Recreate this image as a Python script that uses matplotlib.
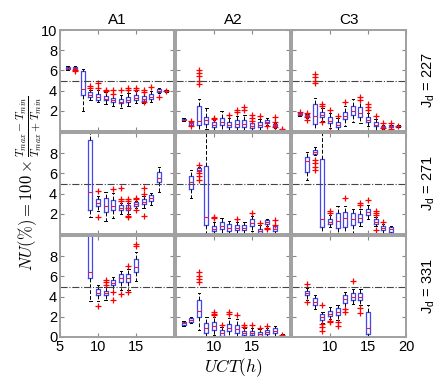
import matplotlib
matplotlib.use("Agg")
from matplotlib import pyplot as plt

plt.rcParams['font.family'] = ['Liberation Sans', 'DejaVu Sans']
plt.rcParams['mathtext.fontset'] = 'custom'
plt.rcParams['mathtext.rm'] = 'Liberation Sans'
plt.rcParams['mathtext.it'] = 'Liberation Sans:italic'

""" ------ box stats read off the picture: (hour, lo, q1, med, q3, hi) ------ """

SITES = ["A1", "A2", "C3"]
JD = [227, 271, 331]

a1_227 = [(6, 6.0, 6.1, 6.2, 6.3, 6.4), (7, 6.0, 6.1, 6.2, 6.3, 6.4),
          (8, 2.0, 3.6, 4.2, 5.9, 6.1), (9, 3.1, 3.4, 3.6, 3.9, 4.1),
          (10, 2.9, 3.1, 3.4, 3.7, 4.1), (11, 2.7, 3.05, 3.2, 3.45, 3.9),
          (12, 2.5, 2.9, 3.1, 3.3, 3.7), (13, 2.3, 2.75, 2.9, 3.2, 3.6),
          (14, 2.5, 2.9, 3.1, 3.4, 3.8), (15, 2.8, 3.1, 3.3, 3.6, 4.0),
          (16, 2.8, 3.0, 3.2, 3.5, 3.9), (17, 2.9, 3.2, 3.4, 3.7, 4.0),
          (18, 3.8, 3.9, 4.0, 4.2, 4.3), (19, 3.9, 3.95, 4.0, 4.05, 4.1)]
a1_227_out = {7: [5.9, 6.05], 9: [4.45, 4.3], 10: [4.8, 4.3], 11: [4.1, 4.0],
              12: [4.1, 3.7], 13: [4.1], 14: [4.3, 4.1], 15: [4.3, 4.1],
              16: [4.1, 3.9, 2.85], 17: [4.4], 18: [3.4], 19: [4.0]}

a2_227 = [(6, 1.0, 1.05, 1.1, 1.2, 1.25), (7, 0.5, 0.6, 0.75, 0.9, 1.0),
          (8, 0.0, 0.6, 1.0, 2.5, 3.2), (9, 0.2, 0.7, 1.1, 1.4, 2.3),
          (10, 0.1, 0.4, 0.6, 0.9, 1.1), (11, 0.1, 0.6, 0.9, 1.3, 2.0),
          (12, 0.05, 0.35, 0.6, 0.9, 1.3), (13, 0.1, 0.4, 0.7, 1.1, 1.5),
          (14, 0.05, 0.35, 0.7, 1.1, 1.6), (15, 0.0, 0.3, 0.5, 0.75, 1.0),
          (16, 0.05, 0.35, 0.6, 0.9, 1.2), (17, 0.6, 0.75, 0.9, 1.05, 1.3),
          (18, 0.3, 0.45, 0.55, 0.7, 0.8), (19, 0.1, 0.12, 0.15, 0.2, 0.22)]
a2_227_out = {7: [1.0, 0.5], 8: [6.0, 5.7, 5.4, 5.0, 4.7], 10: [1.3, 1.2],
              12: [1.6], 13: [2.1, 1.9], 14: [2.4, 2.1], 15: [1.6, 1.3, 1.0],
              16: [1.5], 17: [0.5], 18: [1.4, 0.9, 0.4], 19: [0.2]}

c3_227 = [(6, 1.5, 1.55, 1.65, 1.8, 1.85), (7, 1.3, 1.45, 1.55, 1.65, 1.7),
          (8, 0.0, 0.7, 1.5, 2.7, 3.25), (9, 1.0, 1.35, 1.6, 1.9, 2.3),
          (10, 0.3, 0.76, 1.0, 1.4, 1.8), (11, 0.05, 0.35, 0.6, 0.9, 1.3),
          (12, 0.5, 1.15, 1.5, 1.9, 2.5), (13, 0.9, 1.6, 2.0, 2.5, 3.2),
          (14, 0.8, 1.35, 1.8, 2.4, 3.1), (15, 0.5, 0.9, 1.1, 1.4, 1.8),
          (16, 0.1, 0.45, 0.6, 0.9, 1.2), (17, 0.2, 0.3, 0.4, 0.5, 0.6),
          (18, 0.2, 0.35, 0.45, 0.55, 0.6), (19, 0.35, 0.4, 0.45, 0.5, 0.55)]
c3_227_out = {6: [1.9], 7: [1.8, 1.4, 1.1], 8: [5.6, 5.3, 5.0, 4.8],
              9: [2.7, 2.5, 0.9], 10: [2.1, 0.0], 11: [1.5], 12: [2.9],
              14: [3.4, 3.07], 15: [2.7, 2.4, 2.1], 16: [1.5], 17: [0.8, 0.25],
              18: [0.8, 0.2], 19: [0.45]}

a1_271 = [(9, 1.7, 2.4, 4.2, 9.3, 10.5), (10, 2.3, 2.8, 3.1, 3.5, 3.8),
          (11, 1.3, 2.2, 2.8, 3.6, 4.2), (12, 1.6, 2.4, 2.8, 3.4, 4.1),
          (13, 2.0, 2.4, 2.6, 2.9, 3.1), (14, 2.0, 2.4, 2.6, 2.9, 3.1),
          (15, 2.6, 2.8, 3.0, 3.2, 3.3), (16, 2.6, 3.0, 3.2, 3.5, 3.8),
          (17, 2.9, 3.3, 3.6, 3.9, 4.1), (18, 4.2, 5.1, 5.5, 6.1, 6.6)]
a1_271_out = {10: [4.3, 1.7], 12: [4.5], 13: [4.6, 3.5, 3.3],
              14: [3.5, 3.3, 2.6, 1.8, 1.7], 15: [3.6, 3.5, 2.4],
              16: [4.6, 4.0, 1.8]}

a2_271 = [(7, 3.6, 4.5, 5.1, 5.7, 6.3), (8, 6.0, 6.2, 6.35, 6.5, 6.6),
          (9, 0.1, 0.9, 1.7, 6.7, 10.5), (10, 0.0, 0.3, 0.5, 0.8, 1.2),
          (11, 0.0, 0.5, 0.8, 1.2, 1.6), (12, 0.0, 0.3, 0.6, 1.0, 1.3),
          (13, 0.0, 0.4, 0.6, 0.9, 1.2), (14, 0.0, 0.4, 0.6, 0.9, 1.2),
          (15, 0.3, 0.8, 1.1, 1.45, 1.8), (16, 0.0, 0.1, 0.3, 0.5, 0.9),
          (17, 0.8, 0.95, 1.2, 1.4, 1.5), (18, 0.1, 0.3, 0.5, 0.8, 0.9)]
a2_271_out = {8: [6.8, 6.0, 5.7, 5.3], 10: [1.7, 1.55], 13: [1.5], 15: [2.1],
              16: [1.1], 17: [0.6, 0.5], 18: [1.4, 0.9]}

c3_271 = [(7, 5.3, 6.1, 7.2, 7.6, 8.1), (8, 7.8, 7.95, 8.1, 8.3, 8.6),
          (9, 0.0, 0.7, 1.5, 7.4, 10.5), (10, 0.7, 1.0, 1.2, 1.5, 1.9),
          (11, 0.1, 0.56, 1.3, 2.1, 2.8), (12, 0.1, 0.7, 1.6, 2.2, 2.8),
          (13, 0.1, 0.85, 1.5, 2.1, 2.5), (14, 0.8, 1.2, 1.6, 2.0, 2.5),
          (15, 1.5, 1.9, 2.2, 2.5, 2.9), (16, 0.8, 1.0, 1.2, 1.5, 1.7),
          (17, 0.1, 0.4, 0.6, 0.8, 1.0), (18, 0.1, 0.2, 0.45, 0.7, 0.8)]
c3_271_out = {8: [7.3, 7.0, 6.6, 6.3], 10: [2.3, 2.1], 12: [3.6],
              14: [2.9, 3.1], 15: [3.4], 16: [2.3, 2.1, 1.9, 0.4], 17: [1.2]}

a1_331 = [(9, 3.6, 5.8, 6.4, 11.0, 12.0), (10, 3.6, 4.2, 4.4, 4.8, 5.1),
          (11, 3.7, 4.2, 4.4, 4.6, 5.0), (12, 4.5, 5.1, 5.3, 5.6, 5.9),
          (13, 4.7, 5.4, 5.8, 6.2, 6.5), (14, 4.7, 5.4, 5.8, 6.2, 6.7),
          (15, 5.5, 6.4, 6.9, 7.7, 8.4)]
a1_331_out = {10: [3.1], 11: [5.6, 5.4, 5.1], 12: [4.5, 3.7], 13: [4.3],
              14: [7.0, 4.5], 15: [9.2, 9.0]}

a2_331 = [(6, 1.1, 1.2, 1.35, 1.5, 1.6), (7, 1.4, 1.5, 1.7, 1.9, 2.0),
          (8, 0.7, 2.0, 2.6, 3.7, 4.4), (9, 0.0, 0.4, 0.9, 1.4, 2.0),
          (10, 0.2, 0.7, 1.1, 1.5, 2.0), (11, 0.0, 0.1, 0.4, 0.7, 1.0),
          (12, 0.1, 0.6, 0.9, 1.3, 1.9), (13, 0.0, 0.4, 0.8, 1.2, 1.8),
          (14, 0.0, 0.2, 0.4, 0.6, 0.9), (15, 0.0, 0.2, 0.4, 0.6, 0.9),
          (16, 0.0, 0.1, 0.3, 0.5, 0.8), (17, 0.1, 0.3, 0.5, 0.7, 0.9),
          (18, 0.1, 0.4, 0.6, 0.9, 1.1), (19, 0.1, 0.12, 0.15, 0.2, 0.25)]
a2_331_out = {8: [6.4, 6.0, 5.7, 5.4], 10: [2.5, 2.3, 2.2], 11: [1.2],
              12: [2.5, 2.3], 13: [2.2], 14: [1.2, 1.0], 15: [1.2], 16: [0.9],
              17: [1.1], 19: [0.2]}

c3_331 = [(7, 3.7, 4.2, 4.4, 4.6, 4.9), (8, 2.8, 3.2, 3.5, 3.9, 4.2),
          (9, 1.4, 1.7, 2.0, 2.3, 2.5), (10, 1.8, 2.1, 2.3, 2.6, 3.0),
          (11, 1.7, 2.2, 2.5, 2.9, 3.2), (12, 2.8, 3.4, 3.8, 4.2, 4.5),
          (13, 3.3, 3.7, 4.0, 4.4, 4.8), (14, 3.2, 3.7, 4.0, 4.4, 4.8),
          (15, 0.0, 0.3, 0.9, 2.5, 3.2)]
c3_331_out = {7: [5.2, 3.5], 9: [3.2, 1.3, 1.0, 0.6], 10: [1.6, 1.5],
              11: [1.5, 1.1], 12: [2.5, 2.8], 13: [5.5], 14: [2.9, 2.4]}

PANELS = [[(a1_227, a1_227_out), (a2_227, a2_227_out), (c3_227, c3_227_out)],
          [(a1_271, a1_271_out), (a2_271, a2_271_out), (c3_271, c3_271_out)],
          [(a1_331, a1_331_out), (a2_331, a2_331_out), (c3_331, c3_331_out)]]

""" ------ layout in pixels ------ """
W, H = 448, 381
COL_X = [60, 176, 292]
ROW_Y = [30, 133, 236]
PW, PH = 114, 101


def to_stats(rows, outl):
    stats = []
    for x, lo, q1, med, q3, hi in rows:
        stats.append(dict(med=med, q1=q1, q3=q3, whislo=lo, whishi=hi,
                          fliers=outl.get(x, [])))
    return stats


fig = plt.figure(figsize=(W / 100, H / 100), dpi=100)
axes = [[None] * 3 for i in range(3)]

for r in range(3):
    for c in range(3):
        ax = fig.add_axes([COL_X[c] / W, 1 - (ROW_Y[r] + PH) / H, PW / W, PH / H])
        axes[r][c] = ax
        rows, outl = PANELS[r][c]
        ax.bxp(to_stats(rows, outl), positions=[t[0] for t in rows],
               widths=0.55, capwidths=0.3, manage_ticks=False,
               boxprops=dict(color='#4646f0', lw=0.9),
               medianprops=dict(color='#e8202a', lw=0.8),
               whiskerprops=dict(color='black', lw=0.7, linestyle=(0, (4, 2))),
               capprops=dict(color='black', lw=0.7),
               flierprops=dict(marker='+', markeredgecolor='red',
                               markersize=5, markeredgewidth=0.9, linestyle='none'))
        ax.axhline(5, color='#444444', lw=0.8, linestyle='-.')
        ax.set_xlim(5, 20)
        ax.set_ylim(0, 10)
        ax.set_xticks([5, 10, 15, 20])
        ax.set_yticks([0, 2, 4, 6, 8, 10])
        ax.tick_params(direction='in', length=3, color='#888888', top=True,
                       right=True, labelsize=10.5, pad=2)
        for s in ax.spines.values():
            s.set_color('#a0a0a0')
            s.set_linewidth(1.4)

        if c == 0:
            if r == 0:
                ax.set_yticklabels(['', '2', '4', '6', '8', '10'])
            elif r == 1:
                ax.set_yticklabels(['', '2', '4', '6', '8', ''])
            else:
                ax.set_yticklabels(['0', '2', '4', '6', '8', ''])
        else:
            ax.set_yticklabels([])

        if r == 2:
            if c == 0:
                ax.set_xticklabels(['5', '10', '15', ''])
            elif c == 1:
                ax.set_xticklabels(['', '10', '15', ''])
            else:
                ax.set_xticklabels(['', '10', '15', '20'])
        else:
            ax.set_xticklabels([])

        if r == 0:
            ax.set_title(SITES[c], fontsize=11, pad=4)
        if c == 2:
            ax.text(1.2, 0.5, r'J$_\mathrm{d}$ = %d' % JD[r], rotation=90,
                    transform=ax.transAxes, ha='center', va='center', fontsize=10.5)

axes[1][0].set_ylabel(r'$NU(\%) = 100 \times \frac{T_{max}-T_{min}}{T_{max}+T_{min}}$',
                      fontsize=12, math_fontfamily='cm', labelpad=4)
axes[2][1].set_xlabel(r'$UCT(h)$', fontsize=12.5, math_fontfamily='cm', labelpad=2)

fig.savefig("out.png", dpi=100)
